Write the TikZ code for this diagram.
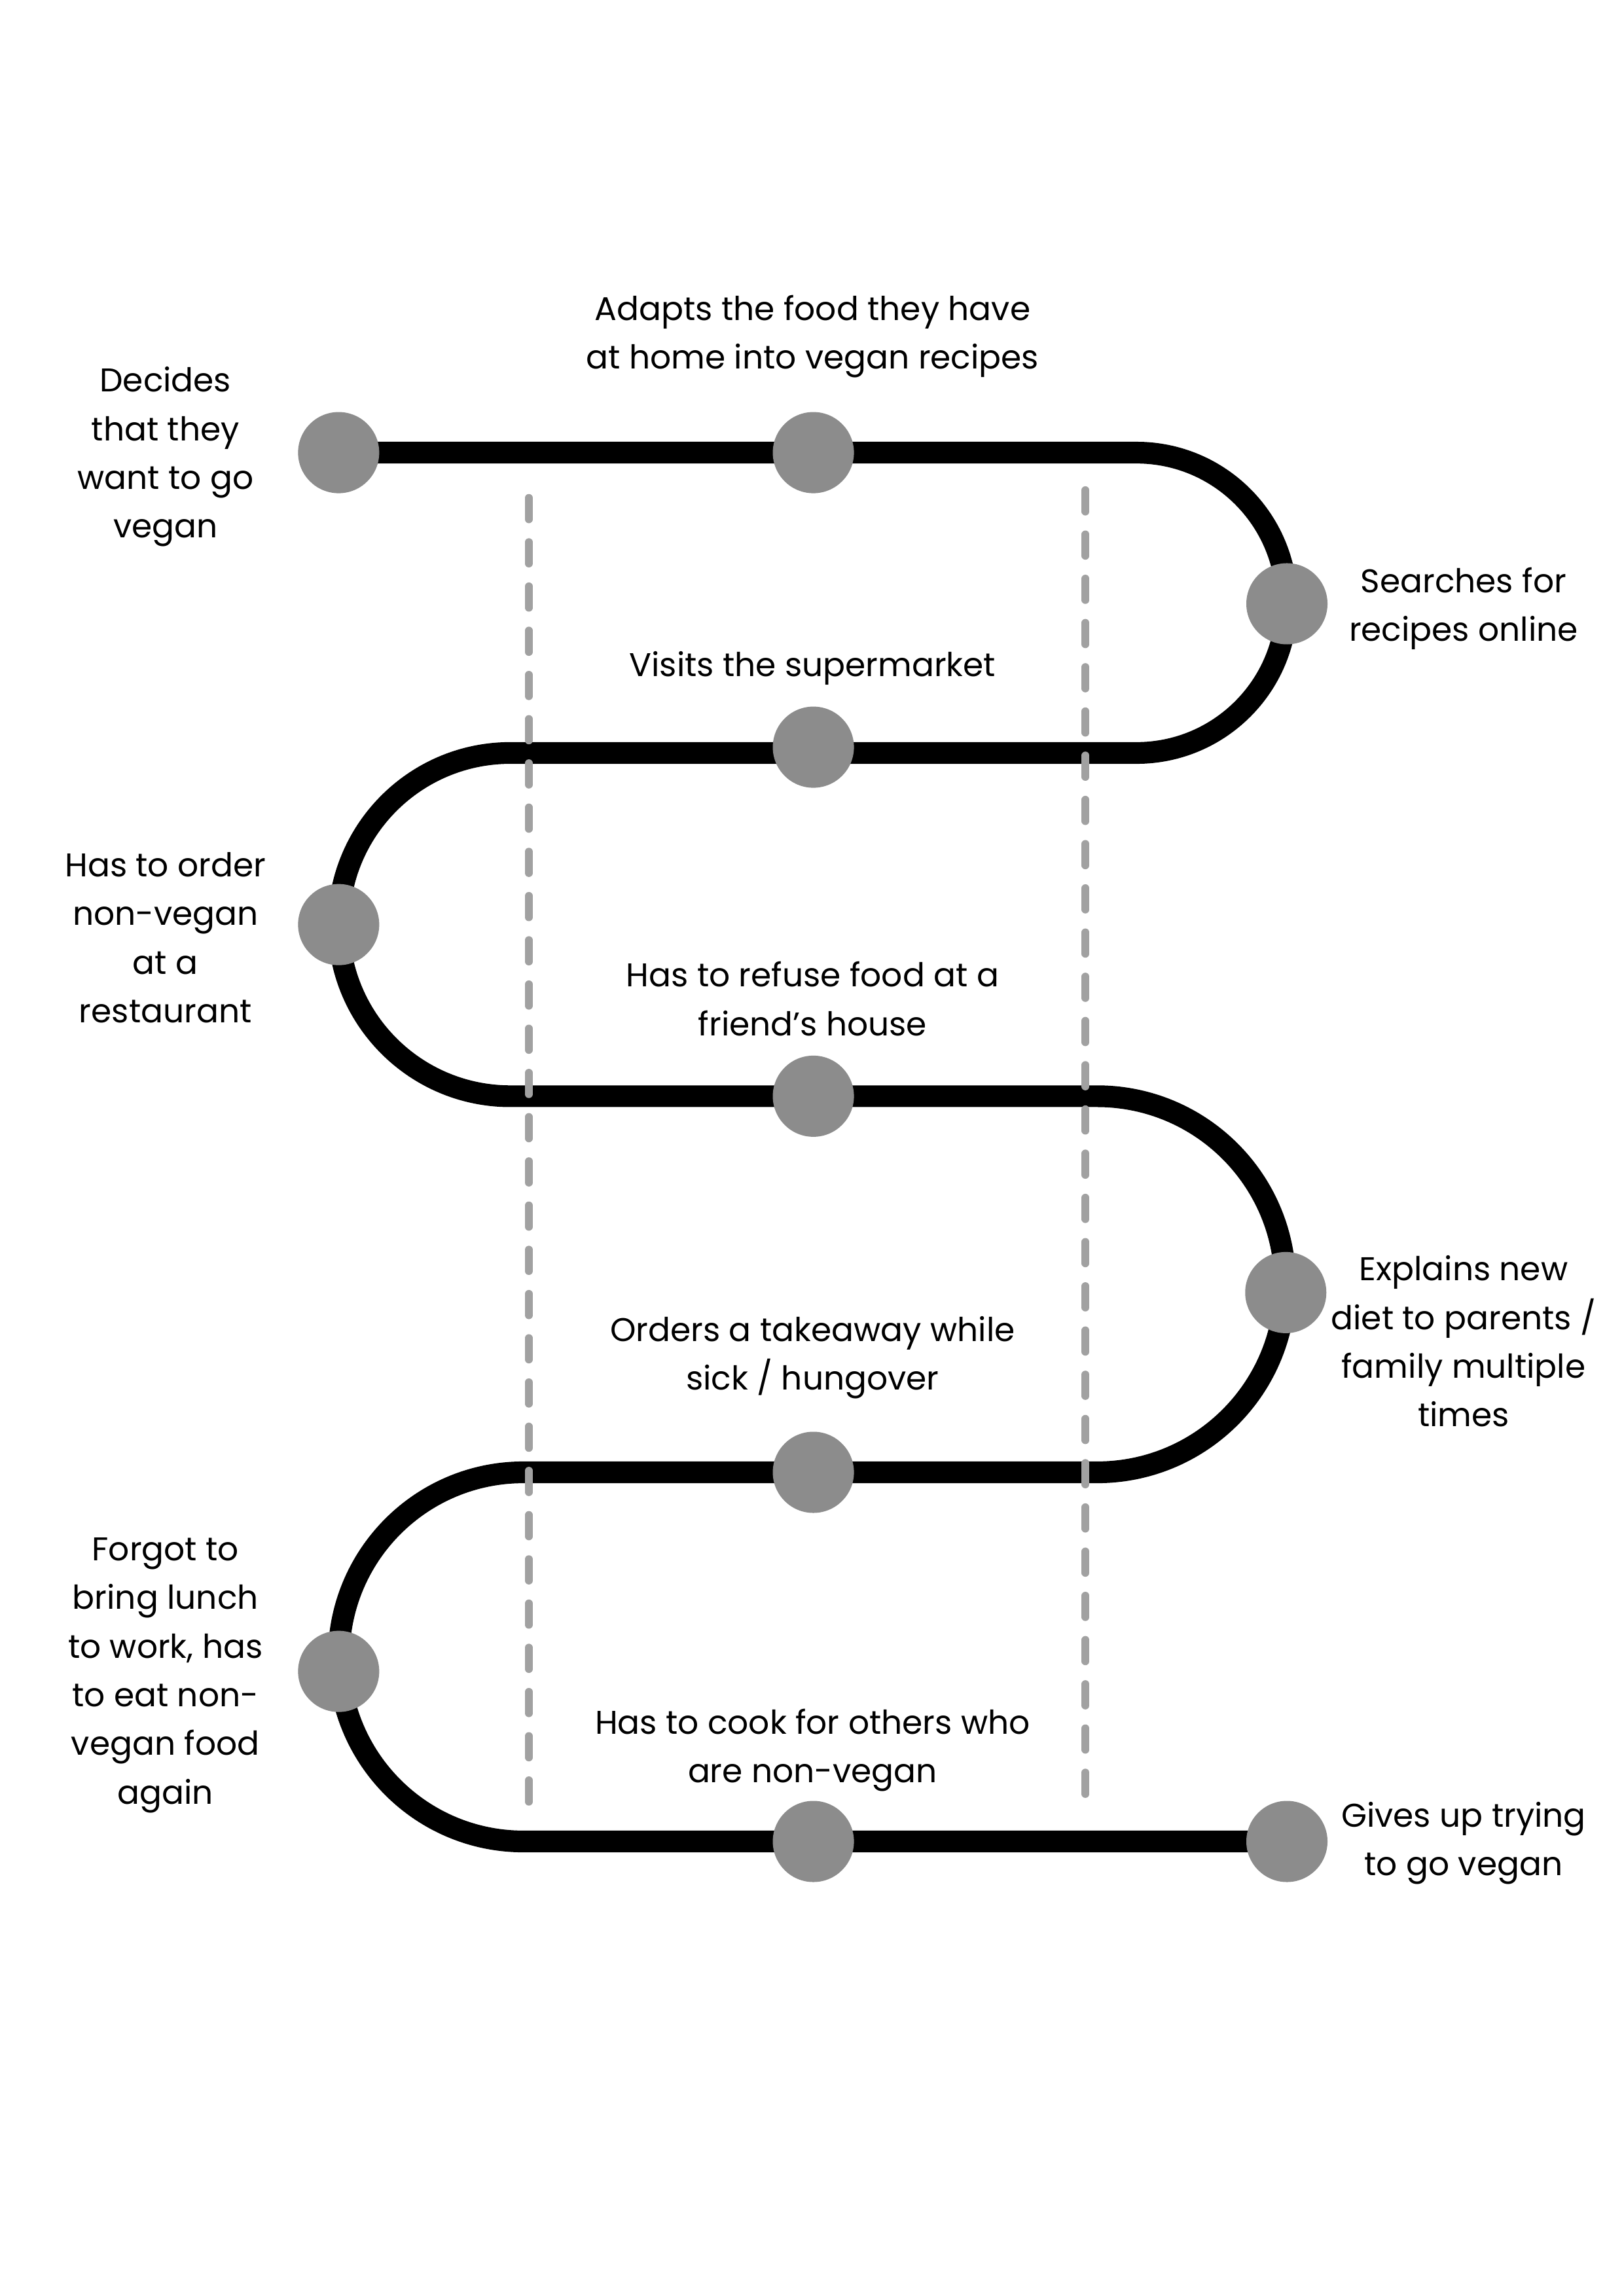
\documentclass[tikz,border=0pt]{standalone}
\usepackage{fontspec}
\setmainfont{Poppins}
\usepackage{tikz}
\usetikzlibrary{backgrounds}

\begin{document}
\begin{tikzpicture}[
    track/.style={line width=8pt,black},
    guide/.style={line width=2.85pt,color=black!37,line cap=round,dash pattern=on 0.278cm off 0.294cm},
    dot/.style={circle,fill=black!45,minimum size=1.05cm,inner sep=0pt},
    lbl/.style={align=center,font=\fontsize{12.1}{17.9}\selectfont}
  ]
      \useasboundingbox (0,0) rectangle (21,-29.7);
      \node[dot] (d1) at (4.38,-5.855) {};
      \node[dot] (d2) at (10.52,-5.855) {};
      \node[dot] (d3) at (16.645,-7.81) {};
      \node[dot] (d4) at (10.52,-9.665) {};
      \node[dot] (d5) at (4.38,-11.96) {};
      \node[dot] (d6) at (10.52,-14.18) {};
      \node[dot] (d7) at (16.63,-16.72) {};
      \node[dot] (d8) at (10.52,-19.045) {};
      \node[dot] (d9) at (4.38,-21.62) {};
      \node[dot] (d10) at (10.52,-23.82) {};
      \node[dot] (d11) at (16.645,-23.82) {};
      \begin{scope}[on background layer]
      \fill[white] (0,0) rectangle (21,-29.7);
      \draw[track] (d1.center) -- (d2.center) -- (14.70,-5.855)
        arc[start angle=90,end angle=-90,radius=1.9425] -- (6.60,-9.74)
        arc[start angle=90,end angle=270,radius=2.22] -- (d6.center) -- (14.19,-14.18)
        arc[start angle=90,end angle=-90,radius=2.4325] -- (d8.center) -- (6.77,-19.045)
        arc[start angle=90,end angle=270,radius=2.3875] -- (d10.center) -- (d11.center);
      \end{scope}
      \foreach \x/\a/\b in {6.84/6.44/23.31,14.04/6.34/23.23}
      \draw[guide] (\x,-\a) -- (\x,-\b);
      \node[lbl] (t1) at (2.14,-5.91) {Decides\\that they\\want to go\\vegan};
      \node[lbl] (t2) at (10.51,-4.35) {Adapts the food they have\\at home into vegan recipes};
      \node[lbl] (t3) at (18.93,-7.87) {Searches for\\recipes online};
      \node[lbl] (t4) at (10.51,-8.64) {Visits the supermarket};
      \node[lbl] (t5) at (2.14,-12.13) {Has to order\\non-vegan\\at a\\restaurant};
      \node[lbl] (t6) at (10.51,-12.92) {Has to refuse food at a\\friend’s house};
      \node[lbl] (t7) at (18.93,-17.35) {Explains new\\diet to parents /\\family multiple\\times};
      \node[lbl] (t8) at (10.51,-17.56) {Orders a takeaway while\\sick / hungover};
      \node[lbl] (t9) at (2.14,-21.67) {Forgot to\\bring lunch\\to work, has\\to eat non-\\vegan food\\again};
      \node[lbl] (t10) at (10.51,-22.64) {Has to cook for others who\\are non-vegan};
      \node[lbl] (t11) at (18.93,-23.84) {Gives up trying\\to go vegan};
\end{tikzpicture}
\end{document}
